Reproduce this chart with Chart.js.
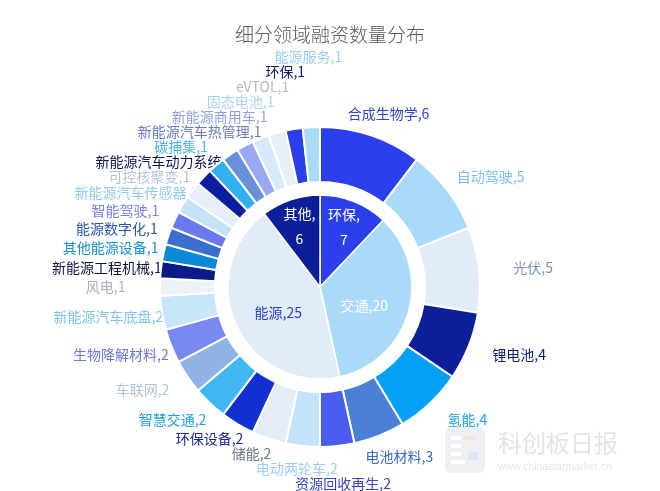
<!DOCTYPE html>
<html><head><meta charset="utf-8">
<script src="https://cdn.jsdelivr.net/npm/chart.js@4.4.1/dist/chart.umd.min.js"></script>
<style>html,body{margin:0;padding:0;background:#fff;}#wrap{width:660px;height:491px;position:relative;}</style>
</head><body><div id="wrap"><canvas id="c"></canvas></div>
<script>
const innerCategories = ['环保','交通','能源','其他'];
const innerValues = [7,20,25,6];
const outerCategories = ['合成生物学','自动驾驶','光伏','锂电池','氢能','电池材料','资源回收再生','电动两轮车','储能','环保设备','智慧交通','车联网','生物降解材料','新能源汽车底盘','风电','新能源工程机械','其他能源设备','能源数字化','智能驾驶','新能源汽车传感器','可控核聚变','新能源汽车动力系统','碳捕集','新能源汽车热管理','新能源商用车','固态电池','eVTOL','环保','能源服务'];
const outerValues = [6,5,5,4,4,3,2,2,2,2,2,2,2,2,1,1,1,1,1,1,1,1,1,1,1,1,1,1,1];
const chartTitle = '细分领域融资数量分布';

const innerColors = ['#2b40ea','#a9dbf9','#e2ecf8','#0c1e9a'];
const innerLabelColors = ['#ffffff','#ffffff','#2b3fc9','#ffffff'];
const outerColors = ['#2b40ea','#a9dbf9','#e2ecf8','#0c1e9a','#03a1f5','#4a80d8','#4b5cf0','#c2e3fa','#e4ecf6','#1230d2','#3fb7f3','#8fb3e4','#7a89f1','#c8e5fa','#edf2f8','#0b1b8a','#0a89d8','#3a6fd0','#6b79f0','#c4e2f8','#e6eef8','#0c1ea0','#33b0f2','#6a91d8','#9aa8f1','#d6eafa','#e8eff8','#2b40ea','#a9dbf9'];
const outerLabelColors = ['#2f3fcf','#7dbdee','#7d90b3','#0d1b6e','#1a9ff0','#3a68c6','#3646c6','#9ccdf2','#6c7585','#1b2a9e','#1e9fe6','#adc2e4','#6b78d6','#7fc2ec','#a9b0b8','#0b1443','#1a8fd6','#2a57ae','#7a80df','#8fcaf0','#b6c2d6','#0b1450','#4fb7ef','#6a78c8','#8f9fe0','#a6d3f4','#b3b9c6','#0d1b6e','#9ccdf2'];

const FONT = '"Noto Sans CJK SC", "Noto Sans", sans-serif';

const labelPlugin = {
  id: 'pieLabels',
  beforeDatasetsDraw(chart) {
    const ctx = chart.ctx;
    const meta = chart.getDatasetMeta(0);
    ctx.save();
    ctx.font = '14px ' + FONT;
    ctx.textAlign = 'center';
    ctx.textBaseline = 'middle';
    const items = meta.data.map((arc, i) => {
      const p = arc.getProps(['x','y','startAngle','endAngle','outerRadius'], true);
      const a = (p.startAngle + p.endAngle) / 2;
      const rx = p.outerRadius * 1.34, ry = p.outerRadius * 1.14;
      const text = outerCategories[i] + ',' + outerValues[i];
      const w = ctx.measureText(text).width;
      return {i, a, x: p.x + rx * Math.cos(a), y: p.y + ry * Math.sin(a), w, text, right: Math.cos(a) >= 0};
    });
    const H = 15;
    const placed = [];
    const place = (it, dir) => {
      let moved = true, guard = 0;
      while (moved && guard++ < 200) {
        moved = false;
        for (const q of placed) {
          const hOverlap = Math.abs(it.x - q.x) < (it.w + q.w) / 2 + 2;
          if (hOverlap && Math.abs(it.y - q.y) < H - 0.01) { it.y = q.y + dir * H; moved = true; }
        }
      }
      placed.push(it);
    };
    items.filter(it => !it.right).sort((a, b) => a.a - b.a).forEach(it => place(it, -1));
    items.filter(it => it.right).sort((a, b) => a.a - b.a).forEach(it => place(it, 1));
    items.forEach(it => {
      ctx.fillStyle = outerLabelColors[it.i];
      ctx.fillText(it.text, it.x, it.y);
    });
    ctx.restore();
  },
  afterDatasetsDraw(chart) {
    const ctx = chart.ctx;
    const meta = chart.getDatasetMeta(2);
    ctx.save();
    ctx.font = '14px ' + FONT;
    ctx.textAlign = 'center';
    ctx.textBaseline = 'middle';
    meta.data.forEach((arc, i) => {
      const p = arc.getProps(['x','y','startAngle','endAngle','outerRadius'], true);
      const a = (p.startAngle + p.endAngle) / 2;
      const span = p.endAngle - p.startAngle;
      ctx.fillStyle = innerLabelColors[i];
      if (span < 0.9) {
        const r = p.outerRadius * 0.7;
        const x = p.x + r * Math.cos(a), y = p.y + r * Math.sin(a);
        ctx.fillText(innerCategories[i] + ',', x, y - 12);
        ctx.fillText(String(innerValues[i]), x, y + 13);
      } else {
        const r = p.outerRadius * 0.5;
        const x = p.x + r * Math.cos(a), y = p.y + r * Math.sin(a) + 6;
        ctx.fillText(innerCategories[i] + ',' + innerValues[i], x, y);
      }
    });
    ctx.restore();
  },
  afterDraw(chart) {
    const ctx = chart.ctx;
    ctx.save();
    ctx.font = '300 19px ' + FONT;
    ctx.fillStyle = '#555a60';
    ctx.textAlign = 'center';
    ctx.textBaseline = 'middle';
    ctx.fillText(chartTitle, chart.width / 2, 35);
    ctx.fillStyle = '#eef0f3';
    ctx.beginPath();
    if (ctx.roundRect) ctx.roundRect(445, 427, 40, 46, 6); else ctx.rect(445, 427, 40, 46);
    ctx.fill();
    ctx.fillStyle = '#ffffff';
    [436, 444, 452, 460].forEach((yy, k) => ctx.fillRect(451, yy, k === 3 ? 14 : 10, 4));
    ctx.fillStyle = '#f6e3d6'; ctx.fillRect(464, 436, 12, 4);
    ctx.fillStyle = '#dde8f3'; ctx.fillRect(468, 452, 10, 8);
    ctx.fillStyle = '#e2e4e8';
    ctx.font = '24px ' + FONT;
    ctx.textAlign = 'left';
    ctx.fillText('科创板日报', 498, 443);
    ctx.fillStyle = '#e4e6ea';
    ctx.font = '10.5px "Liberation Sans", Arial, sans-serif';
    ctx.fillText('www.chinastarmarket.cn', 498, 467);
    ctx.restore();
  }
};

new Chart(document.getElementById('c'), {
  type: 'doughnut',
  data: {
    labels: outerCategories,
    datasets: [
      { data: outerValues, backgroundColor: outerColors, borderColor: '#ffffff', borderWidth: 2, weight: 55 },
      { data: [1], backgroundColor: 'rgba(0,0,0,0)', borderWidth: 0, weight: 13 },
      { data: innerValues, backgroundColor: innerColors, borderColor: '#ffffff', borderWidth: 1.5, weight: 92 }
    ]
  },
  options: {
    responsive: true,
    maintainAspectRatio: false,
    devicePixelRatio: 1,
    animation: false,
    cutout: 0,
    radius: 160,
    layout: { padding: { left: 160, right: 180, top: 127, bottom: 44 } },
    events: [],
    plugins: { legend: { display: false }, tooltip: { enabled: false }, title: { display: false } }
  },
  plugins: [labelPlugin]
});
</script>
</body></html>
